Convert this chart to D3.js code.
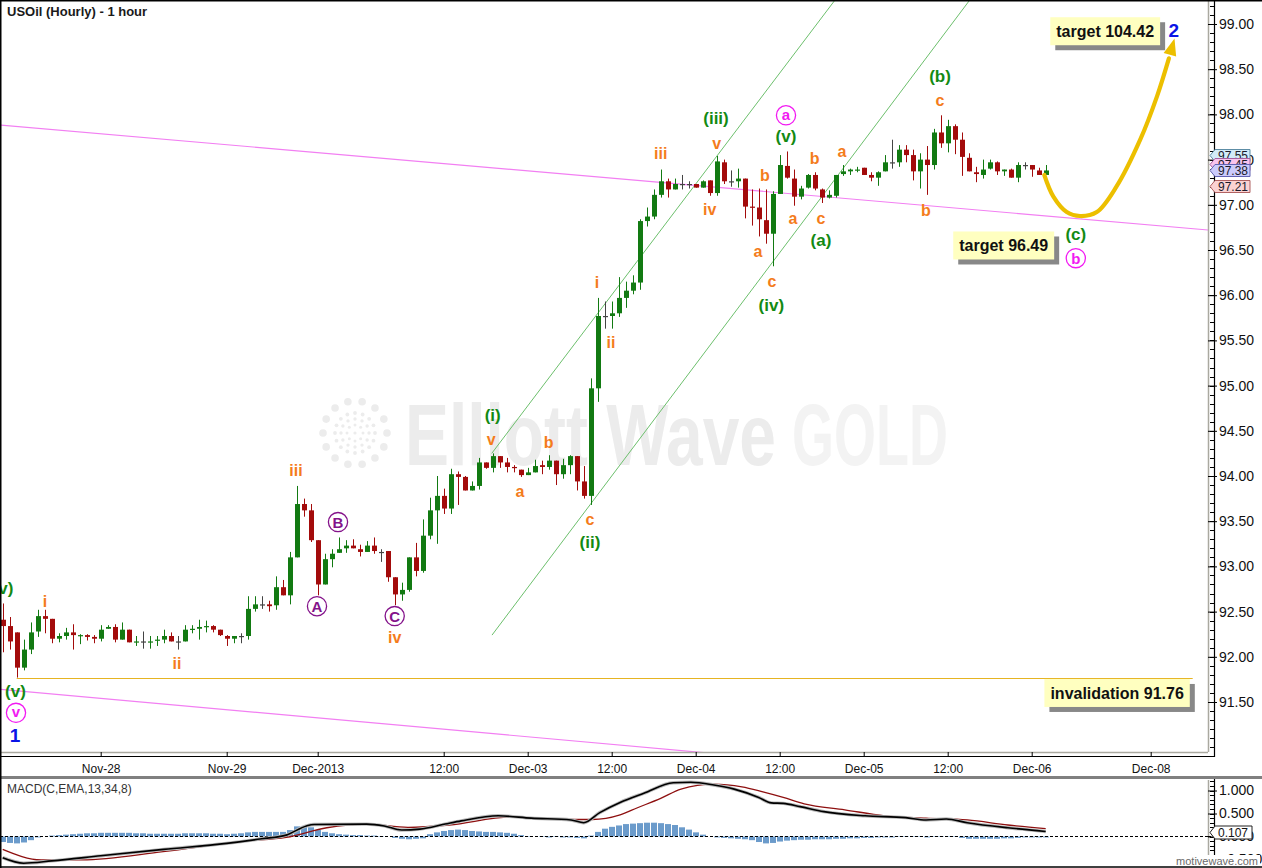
<!DOCTYPE html>
<html><head><meta charset="utf-8">
<script src="https://cdn.jsdelivr.net/npm/d3@7"></script>
<style>html,body{margin:0;padding:0;background:#fff;}svg{display:block;}</style>
</head><body>
<script>
// ---------------- DATA ----------------
const barOpen=[92.41,92.34,92.27,91.88,92.08,92.28,92.45,92.42,92.20,92.23,
92.27,92.23,92.24,92.22,92.20,92.31,92.33,92.19,92.30,92.16,
92.17,92.16,92.18,92.19,92.23,92.17,92.17,92.30,92.31,92.33,
92.34,92.30,92.23,92.20,92.23,92.23,92.53,92.58,92.58,92.57,
92.77,92.68,93.10,93.69,93.62,93.29,92.80,93.08,93.15,93.20,
93.23,93.19,93.16,93.23,93.16,93.17,92.88,92.69,92.74,93.10,
92.95,93.34,93.62,93.78,93.64,94.02,93.99,93.84,93.89,94.15,
94.09,94.22,94.15,94.10,94.07,94.01,94.04,94.12,94.10,94.17,
94.02,94.12,94.22,93.94,93.78,94.97,95.77,95.77,95.80,95.97,
96.05,96.14,96.82,96.87,97.11,97.26,97.17,97.23,97.23,97.23,
97.19,97.27,97.13,97.47,97.26,97.26,97.29,96.98,96.97,96.83,
96.68,97.12,97.43,97.29,97.09,97.19,97.33,97.17,97.08,97.10,
97.34,97.37,97.38,97.41,97.33,97.30,97.37,97.47,97.47,97.61,
97.55,97.37,97.50,97.44,97.80,97.68,97.87,97.72,97.52,97.36,
97.33,97.40,97.47,97.37,97.39,97.30,97.44,97.44,97.38,97.33];
const barHigh=[92.59,92.44,92.27,92.19,92.38,92.52,92.52,92.42,92.26,92.32,
92.36,92.25,92.25,92.24,92.35,92.35,92.36,92.38,92.30,92.23,
92.28,92.23,92.23,92.30,92.27,92.23,92.35,92.35,92.41,92.40,
92.35,92.30,92.24,92.23,92.26,92.67,92.67,92.67,92.62,92.89,
92.85,93.16,93.89,93.75,93.69,93.29,93.14,93.19,93.32,93.29,
93.30,93.24,93.28,93.32,93.19,93.17,92.88,92.82,93.10,93.26,
93.52,93.76,94.00,93.86,94.08,94.05,94.00,93.94,94.20,94.15,
94.25,94.22,94.20,94.12,94.07,94.09,94.18,94.17,94.23,94.17,
94.19,94.23,94.22,94.11,95.08,95.97,95.93,95.93,96.20,96.15,
96.22,96.84,96.97,97.17,97.39,97.29,97.29,97.33,97.26,97.23,
97.27,97.27,97.54,97.50,97.38,97.40,97.29,97.17,97.18,97.17,
97.15,97.55,97.59,97.39,97.21,97.34,97.36,97.18,97.16,97.33,
97.44,97.40,97.42,97.41,97.36,97.37,97.55,97.72,97.66,97.66,
97.61,97.57,97.65,97.84,97.99,97.94,97.89,97.80,97.57,97.42,
97.50,97.50,97.48,97.39,97.40,97.47,97.47,97.44,97.41,97.44];
const barLow=[92.05,92.08,91.77,91.85,92.03,92.22,92.26,92.15,92.16,92.19,
92.08,92.14,92.18,92.15,92.17,92.31,92.16,92.19,92.16,92.12,
92.09,92.09,92.12,92.15,92.17,92.08,92.17,92.26,92.19,92.27,
92.27,92.23,92.12,92.15,92.15,92.19,92.50,92.53,92.50,92.52,
92.68,92.58,93.10,93.55,93.27,92.68,92.80,92.99,93.15,93.15,
93.20,93.11,93.16,93.14,93.05,92.83,92.57,92.62,92.72,92.89,
92.93,93.30,93.25,93.58,93.58,93.68,93.84,93.84,93.85,94.08,
94.04,94.09,94.04,94.04,93.99,94.01,94.04,94.02,94.07,93.90,
93.97,94.02,93.84,93.75,93.68,94.82,95.63,95.63,95.76,95.86,
96.01,96.06,96.76,96.84,97.08,97.08,97.17,97.17,97.18,97.19,
97.19,97.10,97.10,97.23,97.20,97.19,96.85,96.77,96.65,96.57,
96.32,97.12,97.29,96.99,97.06,97.18,97.16,97.02,97.07,97.08,
97.32,97.33,97.36,97.33,97.26,97.21,97.37,97.40,97.42,97.47,
97.27,97.18,97.11,97.39,97.63,97.58,97.56,97.32,97.37,97.25,
97.29,97.39,97.33,97.32,97.30,97.25,97.39,97.31,97.33,97.33];
const barClose=[92.34,92.17,91.88,92.08,92.27,92.45,92.42,92.20,92.23,92.27,
92.24,92.24,92.22,92.20,92.30,92.33,92.19,92.30,92.16,92.17,
92.17,92.17,92.19,92.23,92.17,92.17,92.30,92.31,92.33,92.34,
92.30,92.24,92.20,92.23,92.23,92.53,92.58,92.58,92.56,92.77,
92.68,93.10,93.69,93.62,93.29,92.80,93.08,93.14,93.19,93.23,
93.20,93.16,93.23,93.17,93.16,92.88,92.69,92.74,93.10,92.95,
93.34,93.62,93.78,93.64,94.02,93.99,93.84,93.89,94.15,94.09,
94.22,94.15,94.10,94.09,94.01,94.04,94.11,94.10,94.17,94.02,
94.12,94.22,93.94,93.78,94.97,95.77,95.77,95.80,95.97,96.05,
96.14,96.82,96.87,97.11,97.26,97.17,97.23,97.23,97.23,97.19,
97.26,97.13,97.48,97.26,97.26,97.29,96.98,96.97,96.84,96.68,
97.12,97.44,97.30,97.09,97.18,97.33,97.18,97.08,97.11,97.33,
97.37,97.39,97.39,97.33,97.30,97.36,97.47,97.47,97.61,97.55,
97.37,97.50,97.44,97.80,97.68,97.87,97.72,97.53,97.37,97.34,
97.39,97.47,97.37,97.39,97.30,97.44,97.44,97.39,97.33,97.38];

const xTickIdx=[14,32,45,63,75,87,99,111,123,135,147,164];
const xTickLabels=["Nov-28","Nov-29","Dec-2013","12:00","Dec-03","12:00","Dec-04","12:00","Dec-05","12:00","Dec-06","Dec-08"];
const priceTicks=[91.5,92.0,92.5,93.0,93.5,94.0,94.5,95.0,95.5,96.0,96.5,97.0,97.5,98.0,98.5,99.0];
const macdTicks=[-0.5,0,0.5,1.0];

const macdLine=[[0,-0.46],[3,-0.58],[7,-0.53],[14,-0.42],[23,-0.28],[32,-0.15],[37,-0.05],[40.5,0.03],[43.4,0.23],[44.5,0.26],[52,0.27],[54.5,0.23],[57,0.14],[59.6,0.16],[63.2,0.27],[65.5,0.34],[70.8,0.45],[75.5,0.40],[81.2,0.36],[83,0.30],[85.3,0.52],[88.2,0.74],[91.6,0.94],[95.8,1.17],[98.3,1.18],[101.6,1.12],[104.5,1.03],[108,0.85],[109.8,0.73],[111.5,0.72],[113.9,0.65],[117.3,0.54],[123.2,0.45],[129,0.41],[131.9,0.36],[134.8,0.38],[137.8,0.30],[143.6,0.19],[149,0.11]];
const signalLine=[[0,-0.28],[5.5,-0.51],[11.3,-0.51],[22.9,-0.33],[34.6,-0.10],[40.5,-0.02],[46.3,0.19],[52,0.27],[57.9,0.20],[63.8,0.25],[72.5,0.42],[81.2,0.37],[84.2,0.37],[88.2,0.47],[90.6,0.62],[94,0.83],[96.9,1.03],[101.6,1.14],[105.6,1.08],[108.6,0.97],[111.5,0.85],[114.5,0.71],[120.3,0.58],[126,0.45],[131.9,0.40],[137.8,0.36],[143.6,0.25],[149,0.17]];
const macdHist=[-0.12,-0.14,-0.15,-0.13,-0.08,-0.02,0.00,0.02,0.03,0.04,
0.05,0.06,0.07,0.07,0.08,0.08,0.08,0.08,0.08,0.07,
0.07,0.06,0.06,0.06,0.06,0.06,0.07,0.07,0.07,0.07,
0.06,0.06,0.05,0.06,0.07,0.09,0.10,0.10,0.10,0.10,
0.10,0.14,0.22,0.23,0.20,0.14,0.10,0.07,0.05,0.04,
0.03,0.03,0.02,0.02,0.01,0.00,-0.03,-0.05,-0.06,-0.05,
-0.04,0.05,0.09,0.12,0.14,0.15,0.14,0.12,0.11,0.10,
0.10,0.09,0.08,0.06,0.03,0.01,0.00,-0.01,-0.02,-0.01,
-0.02,-0.02,-0.03,-0.04,0.02,0.10,0.17,0.21,0.24,0.27,
0.28,0.29,0.30,0.30,0.29,0.27,0.25,0.20,0.15,0.09,
0.04,0.00,-0.02,-0.03,-0.04,-0.05,-0.06,-0.08,-0.12,-0.15,
-0.14,-0.11,-0.09,-0.08,-0.07,-0.07,-0.06,-0.06,-0.06,-0.05,
-0.05,-0.04,-0.04,-0.03,-0.03,-0.02,-0.02,-0.02,-0.01,-0.01,
-0.01,-0.01,-0.02,-0.01,0.01,0.01,-0.01,-0.03,-0.05,-0.05,
-0.05,-0.05,-0.05,-0.04,-0.04,-0.03,-0.02,-0.02,-0.02,-0.02];

// trend lines as [barIndex, price]
const magentaUpper=[[-0.4,97.883],[172.2,96.721]];
const magentaLower=[[-0.4,91.641],[172.2,90.438]];
const channelUpper=[[69.86,94.25],[118.95,99.27]];
const channelLower=[[69.9,92.24],[138.2,99.27]];
const invalidationLine=[[2,91.76],[170,91.76]];
const arrowPath=[[148.8,97.33],[150.1,97.09],[152.0,96.92],[153.9,96.876],[156.3,96.92],[159.1,97.20],[162.5,97.72],[164.9,98.20],[166.6,98.62]];
const arrowTip=[167.4,98.84];

// wave labels [text, barIndex, price]
const orangeLabels=[["i",6.04,92.61],["ii",24.9,91.93],["iii",41.9,94.06],["iv",56.0,92.22],["v",69.8,94.39],["a",73.9,93.81],["b",78.0,94.37],["c",83.9,93.51],["i",84.9,96.14],["ii",86.9,95.48],["iii",94.0,97.57],["v",102.0,97.67],["iv",101.0,96.95],["b",108.9,97.33],["a",107.9,96.47],["c",109.9,96.14],["a",112.9,96.83],["b",116.0,97.52],["c",116.9,96.83],["a",119.9,97.58],["c",133.9,98.14],["b",131.9,96.94]];
const greenLabels=[["(v)",0.04,92.74],["(v)",1.83,91.61],["(i)",70.0,94.66],["(ii)",83.9,93.25],["(iii)",101.9,97.94],["(v)",111.9,97.74],["(iv)",109.8,95.88],["(a)",116.9,96.60],["(b)",133.9,98.41],["(c)",153.3,96.66]];
const purpleCircled=[["A",44.9,92.56],["B",47.9,93.49],["C",56.0,92.45]];
const magentaCircled=[["v",1.9,91.38],["a",111.9,97.99],["b",153.3,96.41]];
const blueLabels=[["1",1.76,91.13],["2",167.3,98.93]];
const boxLabels=[["target 104.42",157.5,98.92],["target 96.49",143.0,96.55],["invalidation 91.76",159.2,91.60]];
const priceTags=[["97.55",97.55,"#d2ebf8","#5d8da6"],["97.45",97.45,"#f8c4ee","#a460a0"],["97.38",97.38,"#cbcbfb","#6262b2"],["97.21",97.21,"#fbd2d2","#b06262"]];
const macdTag=0.107;

// ---------------- DRAW ----------------
const W=1262,H=868;
const FONT="'Liberation Sans', Arial, Helvetica, sans-serif";
const PR=1208, PB=752, AX=1214;
const svg=d3.select("body").append("svg").attr("width",W).attr("height",H).attr("font-family",FONT);
svg.append("rect").attr("width",W).attr("height",H).attr("fill","#fff");

const x=d3.scaleLinear().domain([0,164]).range([2.7,1150.7]);
const y=d3.scaleLinear().domain([91.5,99]).range([702,24]);
const ym=d3.scaleLinear().domain([-0.5,1]).range([859.5,790.5]);

const defs=svg.append("defs");
defs.append("clipPath").attr("id","pc").append("rect").attr("x",1).attr("y",1).attr("width",PR-1).attr("height",PB-1);
defs.append("clipPath").attr("id","mc").append("rect").attr("x",1).attr("y",780).attr("width",PR-1).attr("height",86);

const plot=svg.append("g").attr("clip-path","url(#pc)");

// watermark
const wm=plot.append("g");
const cx=355, cy=433;
[[32,14,3.8],[20,16,1.9],[14,12,1.7],[8,8,1.5]].forEach(([R,n,r])=>{
  for(let k=0;k<n;k++){const a=2*Math.PI*k/n;
    wm.append("circle").attr("cx",cx+R*Math.cos(a)).attr("cy",cy+R*Math.sin(a)).attr("r",r).attr("fill","#ececec");}
});
wm.append("circle").attr("cx",cx).attr("cy",cy).attr("r",1.6).attr("fill","#ececec");
wm.append("text").attr("x",405).attr("y",465).attr("font-family","'Liberation Sans Narrow','Arial Narrow',sans-serif").attr("font-weight","bold").attr("font-size",88).attr("textLength",371).attr("lengthAdjust","spacingAndGlyphs").attr("fill","#ececec").text("Elliott Wave");
wm.append("text").attr("x",792).attr("y",465).attr("font-family","'Liberation Sans Narrow','Arial Narrow',sans-serif").attr("font-weight","bold").attr("font-size",88).attr("textLength",156).attr("lengthAdjust","spacingAndGlyphs").attr("fill","#f3f3f3").text("GOLD");

const ln=d3.line().x(d=>x(d[0])).y(d=>y(d[1]));
plot.append("path").attr("d",ln(magentaUpper)).attr("stroke","#f27ff2").attr("stroke-width",1.2).attr("fill","none");
plot.append("path").attr("d",ln(magentaLower)).attr("stroke","#f27ff2").attr("stroke-width",1.2).attr("fill","none");
plot.append("path").attr("d",ln(channelUpper)).attr("stroke","#6cbf6c").attr("stroke-width",1).attr("fill","none");
plot.append("path").attr("d",ln(channelLower)).attr("stroke","#6cbf6c").attr("stroke-width",1).attr("fill","none");
plot.append("path").attr("d",ln(invalidationLine)).attr("stroke","#e6b422").attr("stroke-width",1.2).attr("fill","none");

// candles
const GREEN="#127a12", RED="#a30b0b", GRAY="#444";
const bars=d3.range(barOpen.length).map(i=>({i,o:barOpen[i],h:barHigh[i],l:barLow[i],c:barClose[i]}));
const col=d=>Math.abs(d.c-d.o)<0.005?GRAY:(d.c>d.o?GREEN:RED);
const cg=plot.append("g").selectAll("g").data(bars).join("g");
cg.append("line").attr("x1",d=>Math.round(x(d.i))+0.5).attr("x2",d=>Math.round(x(d.i))+0.5)
  .attr("y1",d=>y(d.h)).attr("y2",d=>y(d.l)).attr("stroke",col).attr("stroke-width",1);
cg.append("rect").attr("x",d=>Math.round(x(d.i))-2).attr("width",5)
  .attr("y",d=>y(Math.max(d.o,d.c))).attr("height",d=>Math.max(1.2,Math.abs(y(d.o)-y(d.c))))
  .attr("fill",col);

// arrow
plot.append("path").attr("d",ln.curve(d3.curveCatmullRom)(arrowPath)).attr("stroke","#ecbf00").attr("stroke-width",4.2).attr("fill","none").attr("stroke-linecap","round");
ln.curve(d3.curveLinear);
{
  const tx=x(arrowTip[0]), ty=y(arrowTip[1]);
  const last=arrowPath[arrowPath.length-1];
  const px=x(last[0]), py=y(last[1]);
  let dx=tx-px, dy=ty-py; const L=Math.hypot(dx,dy); dx/=L; dy/=L;
  const bx=tx-dx*17, by=ty-dy*17, nx=-dy, ny=dx;
  plot.append("path").attr("d",`M${tx},${ty}L${bx+nx*6.5},${by+ny*6.5}L${bx-nx*6.5},${by-ny*6.5}Z`).attr("fill","#ecbf00");
}

// labels
function addText(g,arr,color,size,dyFn){
  g.selectAll(null).data(arr).join("text").attr("x",d=>x(d[1])).attr("y",d=>y(d[2]))
   .attr("text-anchor","middle").attr("dy",dyFn).attr("font-weight","bold").attr("font-size",size).attr("fill",color).text(d=>d[0]);
}
const lg=plot.append("g");
addText(lg,orangeLabels,"#f47c1c",16,d=>/[ib]/.test(d[0])?"0.36em":"0.27em");
addText(lg,greenLabels,"#138a13",17,()=>"0.27em");
addText(lg,blueLabels,"#0a14e6",19,()=>"0.36em");
function circled(arr,color){
  const g=lg.selectAll(null).data(arr).join("g").attr("transform",d=>`translate(${x(d[1])},${y(d[2])})`);
  g.append("circle").attr("r",9.6).attr("fill","none").attr("stroke",color).attr("stroke-width",1.3);
  g.append("text").attr("text-anchor","middle").attr("dy",d=>/[A-Zb]/.test(d[0])?"0.36em":"0.3em").attr("font-weight","bold").attr("font-size",15).attr("fill",color).text(d=>d[0]);
}
circled(purpleCircled,"#84128a");
circled(magentaCircled,"#f21af2");

// boxes
const bg=plot.append("g");
boxLabels.forEach(b=>{
  const g=bg.append("g").attr("transform",`translate(${x(b[1])},${y(b[2])})`);
  const t=g.append("text").attr("text-anchor","middle").attr("dy","0.36em").attr("font-weight","bold").attr("font-size",16).attr("fill","#111").text(b[0]);
  const w=t.node().getComputedTextLength()+12, h=28;
  g.insert("rect","text").attr("x",-w/2+5).attr("y",-h/2+5).attr("width",w).attr("height",h).attr("fill","#888");
  g.insert("rect","text").attr("x",-w/2).attr("y",-h/2).attr("width",w).attr("height",h).attr("fill","#ffffc0");
});

// frame of plot
svg.append("line").attr("x1",PR+0.5).attr("x2",PR+0.5).attr("y1",0).attr("y2",PB).attr("stroke","#aaa9a0").attr("stroke-width",1.5);
svg.append("line").attr("x1",0).attr("x2",PR).attr("y1",PB+0.5).attr("y2",PB+0.5).attr("stroke","#aaa9a0").attr("stroke-width",1.5);
svg.append("line").attr("x1",PR+0.5).attr("x2",PR+0.5).attr("y1",780).attr("y2",866).attr("stroke","#aaa9a0").attr("stroke-width",1.5);

// x axis
const gX=svg.append("g").attr("transform","translate(0,756)")
  .call(d3.axisBottom(x).tickValues(xTickIdx).tickFormat((d,i)=>xTickLabels[i]).tickSizeInner(-4).tickSizeOuter(0).tickPadding(8));
gX.select(".domain").remove();
gX.selectAll(".tick line").attr("stroke","#000");
gX.selectAll(".tick text").attr("font-size",12).attr("font-family",FONT).attr("fill","#111");
svg.append("line").attr("x1",0).attr("x2",AX).attr("y1",756.5).attr("y2",756.5).attr("stroke","#000").attr("stroke-width",1.2);

// y axis (price)
const minorP=d3.range(910,993).map(v=>v/10);
svg.append("g").attr("transform",`translate(${AX},0)`).selectAll("line").data(minorP.filter(v=>y(v)>0&&y(v)<756)).join("line")
  .attr("x1",-4).attr("x2",0).attr("y1",d=>Math.round(y(d))+0.5).attr("y2",d=>Math.round(y(d))+0.5).attr("stroke","#000");
const gY=svg.append("g").attr("transform",`translate(${AX},0)`)
  .call(d3.axisRight(y).tickValues(priceTicks).tickFormat(d3.format(".2f")).tickSize(3).tickPadding(2));
gY.select(".domain").remove();
gY.selectAll(".tick line").attr("x1",-6).attr("stroke","#000");
gY.selectAll(".tick text").attr("font-size",14).attr("font-family",FONT).attr("fill","#111");
svg.append("line").attr("x1",AX+0.5).attr("x2",AX+0.5).attr("y1",0).attr("y2",757).attr("stroke","#000").attr("stroke-width",1.2);

// price tags
priceTags.forEach(t=>{
  const yc=Math.round(y(t[1]))+0.5;
  svg.append("path").attr("d",`M${AX-4},${yc}L${AX+1},${yc-6}L1250,${yc-6}L1250,${yc+6}L${AX+1},${yc+6}Z`).attr("fill",t[2]).attr("stroke",t[3]).attr("stroke-width",1);
  svg.append("text").attr("x",AX+4).attr("y",yc).attr("dy","0.36em").attr("font-size",12).attr("fill","#1a1a2a").text(t[0]);
});

// title
svg.append("text").attr("x",7).attr("y",16).attr("font-size",13).attr("font-weight","bold").attr("fill","#1a1a1a").text("USOil (Hourly) - 1 hour");

// separator
svg.append("rect").attr("x",0).attr("y",776).attr("width",W).attr("height",3).attr("fill","#808080");

// MACD panel
const mp=svg.append("g").attr("clip-path","url(#mc)");
mp.selectAll("rect").data(macdHist.map((v,i)=>[i,v])).join("rect")
  .attr("x",d=>Math.round(x(d[0]))-3).attr("width",6)
  .attr("y",d=>Math.min(ym(d[1]),ym(0))).attr("height",d=>Math.abs(ym(d[1])-ym(0)))
  .attr("fill","#6b9bcb");
mp.append("line").attr("x1",0).attr("x2",AX).attr("y1",ym(0)).attr("y2",ym(0)).attr("stroke","#000").attr("stroke-dasharray","3,2");
const ml=d3.line().x(d=>x(d[0])).y(d=>ym(d[1])).curve(d3.curveMonotoneX);
mp.append("path").attr("d",ml(signalLine)).attr("stroke","#8e1010").attr("stroke-width",1.3).attr("fill","none");
mp.append("path").attr("d",ml(macdLine)).attr("stroke","#b8b8b8").attr("stroke-width",3.4).attr("fill","none");
mp.append("path").attr("d",ml(macdLine)).attr("stroke","#000").attr("stroke-width",1.6).attr("fill","none");
svg.append("line").attr("x1",PR).attr("x2",AX).attr("y1",ym(0)).attr("y2",ym(0)).attr("stroke","#000").attr("stroke-dasharray","3,2");
svg.append("text").attr("x",7).attr("y",789).attr("dy","0.36em").attr("font-size",12).attr("fill","#333").text("MACD(C,EMA,13,34,8)");

// MACD axis
const minorM=d3.range(-6,13).map(v=>v/10);
svg.append("g").attr("transform",`translate(${AX},0)`).selectAll("line").data(minorM.filter(v=>ym(v)>780&&ym(v)<866)).join("line")
  .attr("x1",-4).attr("x2",0).attr("y1",d=>Math.round(ym(d))+0.5).attr("y2",d=>Math.round(ym(d))+0.5).attr("stroke","#000");
const gM=svg.append("g").attr("transform",`translate(${AX},0)`)
  .call(d3.axisRight(ym).tickValues(macdTicks).tickFormat(d3.format(".3f")).tickSize(3).tickPadding(2));
gM.select(".domain").remove();
gM.selectAll(".tick line").attr("x1",-6).attr("stroke","#000");
gM.selectAll(".tick text").attr("font-size",14).attr("font-family",FONT).attr("fill","#111");
svg.append("line").attr("x1",AX+0.5).attr("x2",AX+0.5).attr("y1",779).attr("y2",867).attr("stroke","#000").attr("stroke-width",1.2);
{
  const yc=Math.round(ym(macdTag))+0.5;
  svg.append("path").attr("d",`M${AX-4},${yc}L${AX+1},${yc-6.5}L1252,${yc-6.5}L1252,${yc+6.5}L${AX+1},${yc+6.5}Z`).attr("fill","#fff").attr("stroke","#222").attr("stroke-width",1);
  svg.append("text").attr("x",AX+4).attr("y",yc).attr("dy","0.36em").attr("font-size",12).attr("fill","#111").text(d3.format(".3f")(macdTag));
}
svg.append("rect").attr("x",1176).attr("y",855).attr("width",84).attr("height",12).attr("fill","#fff");
svg.append("text").attr("x",1258).attr("y",865).attr("text-anchor","end").attr("font-size",11).attr("fill","#6a6a6a").text("motivewave.com");

// outer frame
svg.append("line").attr("x1",0).attr("x2",W).attr("y1",0.75).attr("y2",0.75).attr("stroke","#000").attr("stroke-width",1.5);
svg.append("line").attr("x1",0.75).attr("x2",0.75).attr("y1",0).attr("y2",H).attr("stroke","#000").attr("stroke-width",1.5);
svg.append("line").attr("x1",0).attr("x2",W).attr("y1",867).attr("y2",867).attr("stroke","#000").attr("stroke-width",1.5);
</script>
</body></html>
